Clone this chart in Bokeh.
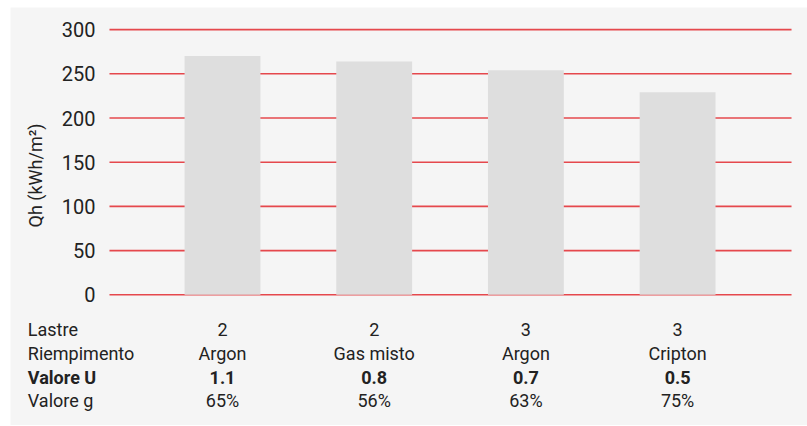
import math
from bokeh.plotting import figure
from bokeh.models import Range1d
from bokeh.core.properties import value
from bokeh.embed import file_html
from bokeh.resources import INLINE

# ---- data ----
categories = ["A", "B", "C", "D"]
qh_values = [270, 264, 254, 229]
y_ticks = [0, 50, 100, 150, 200, 250, 300]
y_tick_labels = ["0", "50", "100", "150", "200", "250", "300"]
row_labels = ["Lastre", "Riempimento", "Valore U", "Valore g"]
lastre = ["2", "2", "3", "3"]
riempimento = ["Argon", "Gas misto", "Argon", "Cripton"]
valore_u = ["1.1", "0.8", "0.7", "0.5"]
valore_g = ["65%", "56%", "63%", "75%"]
y_axis_label = "Qh (kWh/m²)"

# ---- style / layout ----
BG = "#f5f5f5"
BAR = "#dedede"
GRID = "#e5484d"
TXT = "#222222"
FONT = "Roboto"
X_RANGE = (-1.3975, 3.8563)
Y_RANGE = (-147.85, 325.0)
GRID_X = (-0.745, 3.751)          # horizontal extent of the gridlines
TICK_LABEL_X = -0.8372            # right edge of the y tick labels
AXIS_LABEL_POS = (-1.2327, 135)
ROW_Y = [-39.8, -66.4, -93.0, -119.6]   # table rows, below zero
LABEL_X = -1.2834                 # left column of the table

idx = list(range(len(categories)))

p = figure(width=797, height=418, output_backend="svg", toolbar_location=None,
           x_range=Range1d(*X_RANGE), y_range=Range1d(*Y_RANGE),
           x_axis_location=None, y_axis_location=None,
           min_border=0, margin=(7, 0, 1, 10))
p.background_fill_color = BG
p.border_fill_color = BG
p.outline_line_color = None
p.grid.visible = False

# gridlines at the y ticks
p.segment(x0=[GRID_X[0]] * len(y_ticks), x1=[GRID_X[1]] * len(y_ticks),
          y0=y_ticks, y1=y_ticks, line_color=GRID, line_width=1.6)

# bars
p.vbar(x=idx, top=qh_values, bottom=0, width=0.5, fill_color=BAR, line_color=None)

# y tick labels
p.text(x=[TICK_LABEL_X] * len(y_ticks), y=y_ticks, text=y_tick_labels,
       text_font=value(FONT), text_font_size=value("20px"), text_color=TXT,
       text_align="right", text_baseline="middle")

# y axis title
p.text(x=[AXIS_LABEL_POS[0]], y=[AXIS_LABEL_POS[1]], text=[y_axis_label],
       angle=math.pi / 2, text_font=value(FONT), text_font_size=value("18px"),
       text_color=TXT, text_align="center", text_baseline="middle")

# table under the bars
rows = [lastre, riempimento, valore_u, valore_g]
for k, (lab, vals) in enumerate(zip(row_labels, rows)):
    style = "bold" if lab == "Valore U" else "normal"
    p.text(x=[LABEL_X], y=[ROW_Y[k]], text=[lab], text_font=value(FONT),
           text_font_size=value("18px"), text_color=TXT, text_align="left",
           text_baseline="middle", text_font_style=style)
    p.text(x=idx, y=[ROW_Y[k]] * len(idx), text=vals, text_font=value(FONT),
           text_font_size=value("18px"), text_color=TXT, text_align="center",
           text_baseline="middle", text_font_style=style)

open("out.html", "w").write(file_html(p, INLINE))
